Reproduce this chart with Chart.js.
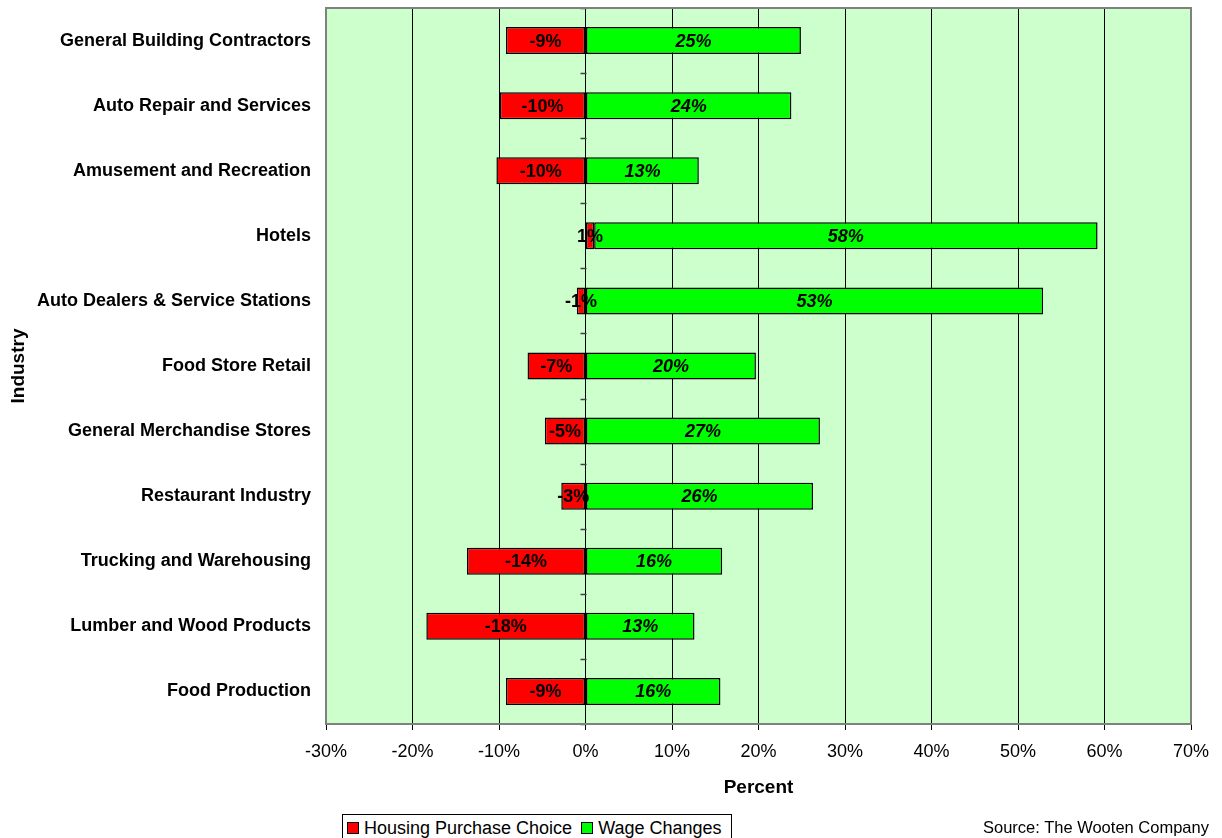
<!DOCTYPE html>
<html>
<head>
<meta charset="utf-8">
<title>Industry: Housing Purchase Choice vs Wage Changes</title>
<script src="https://cdn.jsdelivr.net/npm/chart.js@4/dist/chart.umd.min.js"></script>
<style>
  html, body { margin: 0; padding: 0; background: #fff; overflow: hidden; }
  #wrap { position: relative; width: 1222px; height: 838px; }
  canvas { position: absolute; left: 0; top: 0; }
  #legend {
    position: absolute; left: 342px; top: 814px; height: 30px;
    border: 1px solid #000; background: #fff; box-sizing: border-box;
    padding: 0 4px; display: flex; align-items: flex-start; white-space: nowrap;
    font-family: "Liberation Sans", Arial, sans-serif; font-size: 18px; color: #000;
  }
  #legend .item { display: flex; align-items: center; height: 26px; margin-right: 9px; }
  #legend .item:last-child { margin-right: 5px; }
  #legend .sw { width: 10px; height: 10px; border: 1px solid #000; margin-right: 5px; }
  #source {
    position: absolute; left: 983px; top: 818px;
    font-family: "Liberation Sans", Arial, sans-serif; font-size: 16.5px; color: #000;
    white-space: nowrap;
  }
</style>
</head>
<body>
<div id="wrap">
  <canvas id="chart" width="1222" height="838"></canvas>
  <div id="legend"></div>
  <div id="source">Source: The Wooten Company</div>
</div>
<script>
// Industries, top to bottom
const industries = [
  "General Building Contractors",
  "Auto Repair and Services",
  "Amusement and Recreation",
  "Hotels",
  "Auto Dealers & Service Stations",
  "Food Store Retail",
  "General Merchandise Stores",
  "Restaurant Industry",
  "Trucking and Warehousing",
  "Lumber and Wood Products",
  "Food Production"
];

// Percent change per industry
const housingPurchaseChoice = [-9.2, -9.9, -10.3, 1.0, -1.0, -6.7, -4.7, -2.8, -13.7, -18.4, -9.2];
const wageChanges = [24.9, 23.8, 13.1, 58.2, 52.9, 19.7, 27.1, 26.3, 15.8, 12.6, 15.6];

const seriesNames = ["Housing Purchase Choice", "Wage Changes"];
const seriesColors = ["#FF0000", "#00FF00"];

// Percent axis ticks
const xTicks = [-30, -20, -10, 0, 10, 20, 30, 40, 50, 60, 70];

const FONT = '"Liberation Sans", Arial, sans-serif';

// Plot area background and grey frame
const plotFrame = {
  id: 'plotFrame',
  beforeDraw(chart) {
    const { ctx, chartArea: a } = chart;
    ctx.save();
    ctx.fillStyle = '#CCFFCC';
    ctx.fillRect(a.left, a.top, a.right - a.left, a.bottom - a.top);
    ctx.restore();
  },
  afterDraw(chart) {
    const { ctx, chartArea: a } = chart;
    ctx.save();
    ctx.strokeStyle = '#808080';
    ctx.lineWidth = 2;
    ctx.strokeRect(a.left, a.top, a.right - a.left, a.bottom - a.top);
    ctx.restore();
  }
};

// Category tick marks along the zero line
const zeroAxisTicks = {
  id: 'zeroAxisTicks',
  afterDatasetsDraw(chart) {
    const { ctx, scales: { x, y } } = chart;
    const x0 = Math.round(x.getPixelForValue(0)) + 0.5;
    ctx.save();
    ctx.strokeStyle = '#404040';
    ctx.lineWidth = 1.5;
    for (let i = 0; i <= industries.length; i++) {
      const py = Math.round(y.getPixelForValue(i - 0.5)) + 0.5;
      ctx.beginPath();
      ctx.moveTo(x0 - 6, py);
      ctx.lineTo(x0, py);
      ctx.stroke();
    }
    ctx.restore();
  }
};

// Value labels centred on each bar segment
const valueLabels = {
  id: 'valueLabels',
  afterDatasetsDraw(chart) {
    const { ctx } = chart;
    ctx.save();
    ctx.fillStyle = '#000';
    ctx.textAlign = 'center';
    ctx.textBaseline = 'middle';
    chart.data.datasets.forEach((ds, di) => {
      const meta = chart.getDatasetMeta(di);
      ctx.font = (di === 1 ? 'italic bold 18px ' : 'bold 18px ') + FONT;
      meta.data.forEach((bar, i) => {
        const cx = (bar.x + bar.base) / 2;
        ctx.fillText(Math.round(ds.data[i]) + '%', cx, bar.y + 1);
      });
    });
    ctx.restore();
  }
};

const chart = new Chart(document.getElementById('chart'), {
  type: 'bar',
  data: {
    labels: industries,
    datasets: [
      {
        label: seriesNames[0],
        data: housingPurchaseChoice,
        backgroundColor: seriesColors[0],
        borderColor: '#000',
        borderWidth: 1.5,
        borderSkipped: false
      },
      {
        label: seriesNames[1],
        data: wageChanges,
        backgroundColor: seriesColors[1],
        borderColor: '#000',
        borderWidth: 1.5,
        borderSkipped: false
      }
    ]
  },
  options: {
    responsive: false,
    animation: false,
    indexAxis: 'y',
    devicePixelRatio: 1,
    datasets: { bar: { categoryPercentage: 1, barPercentage: 0.415 } },
    layout: { padding: { left: 0, right: 31, top: 8, bottom: 34 } },
    plugins: {
      legend: { display: false },
      tooltip: { enabled: false }
    },
    scales: {
      x: {
        type: 'linear',
        stacked: true,
        min: xTicks[0],
        max: xTicks[xTicks.length - 1],
        afterBuildTicks(scale) { scale.ticks = xTicks.map(v => ({ value: v })); },
        afterFit(scale) { scale.height = 80; },
        grid: { color: '#000', lineWidth: 1, tickLength: 6, drawTicks: true },
        border: { display: true, color: '#808080', width: 1 },
        ticks: {
          padding: 11,
          color: '#000',
          font: { family: FONT, size: 18 },
          callback: v => v + '%'
        },
        title: {
          display: true,
          text: 'Percent',
          color: '#000',
          font: { family: FONT, size: 19, weight: 'bold' },
          padding: { top: 0, bottom: 5 }
        }
      },
      y: {
        stacked: true,
        afterFit(scale) {
          scale.width = 326;
          scale.paddingTop = 0;
          scale.paddingBottom = 0;
        },
        grid: { display: false, drawTicks: false },
        border: { display: false },
        ticks: {
          padding: 15,
          color: '#000',
          font: { family: FONT, size: 18, weight: 'bold' }
        },
        title: {
          display: true,
          text: 'Industry',
          color: '#000',
          font: { family: FONT, size: 19, weight: 'bold' },
          padding: { top: 7, bottom: 0 }
        }
      }
    }
  },
  plugins: [plotFrame, zeroAxisTicks, valueLabels]
});

// Legend built from the dataset names and colours
const legendEl = document.getElementById('legend');
seriesNames.forEach((name, i) => {
  const item = document.createElement('div');
  item.className = 'item';
  const sw = document.createElement('div');
  sw.className = 'sw';
  sw.style.background = seriesColors[i];
  const tx = document.createElement('span');
  tx.textContent = name;
  item.appendChild(sw);
  item.appendChild(tx);
  legendEl.appendChild(item);
});
</script>
</body>
</html>
